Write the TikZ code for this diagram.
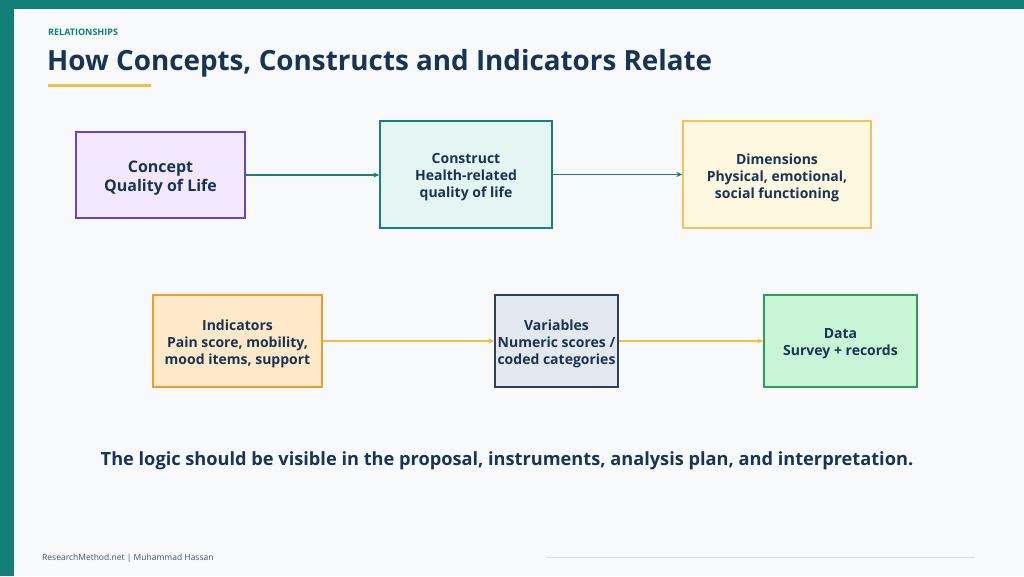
\documentclass[tikz,border=0pt]{standalone}
\usepackage{fontspec}
\setmainfont{Open Sans}
\usetikzlibrary{arrows.meta}
\definecolor{bg}{HTML}{F7F9FB}
\definecolor{teal}{HTML}{127E78}
\definecolor{navy}{HTML}{173457}
\definecolor{gold}{HTML}{F2BE4A}
\definecolor{c1f}{HTML}{F3E8FF}\definecolor{c1d}{HTML}{6A45BD}
\definecolor{c2f}{HTML}{E5F5F1}\definecolor{c2d}{HTML}{1A7F74}
\definecolor{c3f}{HTML}{FFF8E1}\definecolor{c3d}{HTML}{F2C453}
\definecolor{c4f}{HTML}{FFE9C8}\definecolor{c4d}{HTML}{EE9B32}
\definecolor{c5f}{HTML}{E3E8F1}\definecolor{c5d}{HTML}{2E3F5C}
\definecolor{c6f}{HTML}{C8F5D5}\definecolor{c6d}{HTML}{2F9B5A}
\definecolor{foot}{HTML}{4A5568}
\definecolor{rule}{HTML}{DCE1E7}
\begin{document}
\begin{tikzpicture}[x=1pt,y=-1pt,
  box/.style={draw, line width=1.3pt, rectangle, inner sep=0pt},
  boxtext/.style={align=center, text=navy, font=\fontsize{14}{17}\selectfont\bfseries, inner sep=0pt, yshift=-3pt},
  tealarrow/.style={draw=c2d, line width=1.8pt, -{Stealth[length=6pt,width=5pt]}},
  goldarrow/.style={draw=gold, line width=1.8pt, -{Stealth[length=6pt,width=5pt]}}]
\useasboundingbox (0,0) rectangle (1024,576);
\fill[bg] (0,0) rectangle (1024,576);
\fill[teal] (0,0) rectangle (1024,9);
\fill[teal] (0,0) rectangle (14,576);
\node[anchor=base west, text=teal, font=\fontsize{9}{10}\selectfont\bfseries, inner sep=0pt] (kicker) at (48,35) {RELATIONSHIPS};
\node[anchor=base west, text=navy, font=\fontsize{27.8}{32}\selectfont\bfseries, inner sep=0pt] (title) at (47,70) {How Concepts, Constructs and Indicators Relate};
\fill[gold] (48,84) rectangle (151,86.5);

\node[box, fill=c1f, draw=c1d, minimum width=169pt, minimum height=86pt] (concept) at (160.5,175) {};
\node[boxtext, font=\fontsize{16}{19.5}\selectfont\bfseries] (conceptT) at (concept.center) {Concept\\Quality of Life};
\node[box, fill=c2f, draw=c2d, minimum width=172pt, minimum height=107pt] (construct) at (466,174.5) {};
\node[boxtext] (constructT) at (construct.center) {Construct\\Health-related\\quality of life};
\node[box, fill=c3f, draw=c3d, minimum width=188pt, minimum height=107pt] (dims) at (777,174.5) {};
\node[boxtext] (dimsT) at (dims.center) {Dimensions\\Physical, emotional,\\social functioning};
\node[box, fill=c4f, draw=c4d, minimum width=169pt, minimum height=92pt] (ind) at (237.5,341) {};
\node[boxtext] (indT) at (ind.center) {Indicators\\Pain score, mobility,\\mood items, support};
\node[box, fill=c5f, draw=c5d, minimum width=123pt, minimum height=92pt] (vars) at (556.5,341) {};
\node[boxtext] (varsT) at (vars.center) {Variables\\Numeric scores /\\coded categories};
\node[box, fill=c6f, draw=c6d, minimum width=153pt, minimum height=92pt] (data) at (840.5,341) {};
\node[boxtext] (dataT) at (data.center) {Data\\Survey + records};

\draw[tealarrow] (concept.east) -- (construct.west |- concept.east);
\draw[tealarrow] (construct.east) -- (dims.west);
\draw[goldarrow] (ind.east) -- (vars.west);
\draw[goldarrow] (vars.east) -- (data.west);

\node[text=navy, font=\fontsize{18.2}{22}\selectfont\bfseries, inner sep=0pt] (logic) at (507,461) {The logic should be visible in the proposal, instruments, analysis plan, and interpretation.};

\node[anchor=base west, text=foot, font=\fontsize{8.5}{10}\selectfont, inner sep=0pt] (footer) at (42,560) {ResearchMethod.net | Muhammad Hassan};
\draw[rule, line width=0.8pt] (546,557) -- (975,557);
\end{tikzpicture}
\end{document}
